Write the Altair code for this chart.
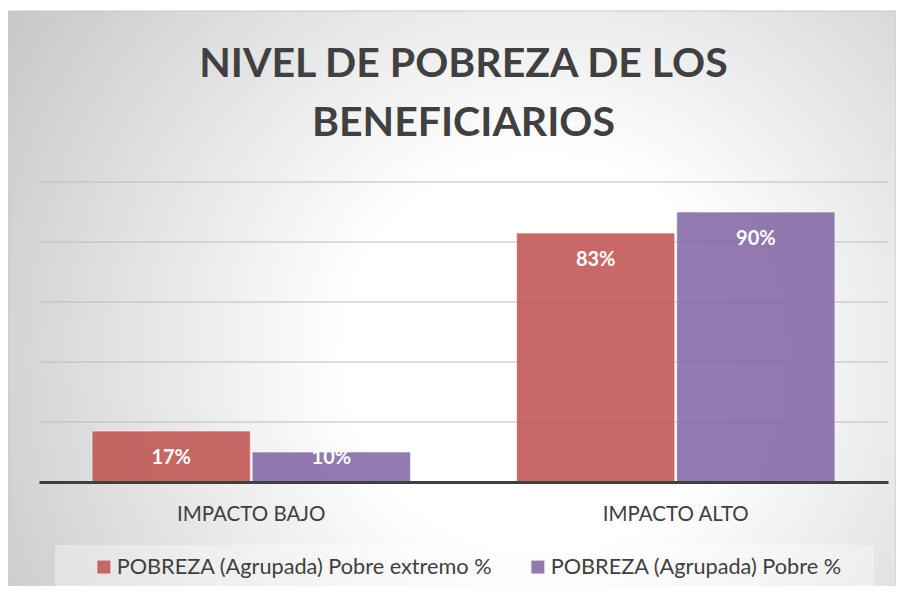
import altair as alt
import pandas as pd

categories = ["IMPACTO BAJO", "IMPACTO ALTO"]
series = ["POBREZA (Agrupada) Pobre extremo %", "POBREZA (Agrupada) Pobre %"]
pobre_extremo = [0.17, 0.83]
pobre = [0.10, 0.90]
grid_vals = [0.2, 0.4, 0.6, 0.8, 1.0]
colors = ["#C0504D", "#8064A2"]
title_lines = ["NIVEL DE POBREZA DE LOS", "BENEFICIARIOS"]

rows = []
for i, c in enumerate(categories):
    rows.append({"impacto": c, "serie": series[0], "valor": pobre_extremo[i]})
    rows.append({"impacto": c, "serie": series[1], "valor": pobre[i]})
df = pd.DataFrame(rows)

W, H = 849, 300
FONT = "Lato"

x_enc = alt.X("impacto:N", sort=categories,
              scale=alt.Scale(paddingInner=0.25, paddingOuter=0.125),
              axis=alt.Axis(title=None, labelAngle=0, ticks=False, domainColor="#404040",
                            domainWidth=3, labelFont=FONT, labelFontSize=20.5,
                            labelColor="#404040", labelPadding=22, grid=False, zindex=1))
xo_enc = alt.XOffset("serie:N", sort=series, scale=alt.Scale(paddingInner=0.012, paddingOuter=0))
y_scale = alt.Scale(domain=[0, 1], nice=False)

bg = alt.Chart(alt.Data(values=[{}])).mark_rect(
    color={"gradient": "radial", "x1": 0.6, "y1": 0.56, "r1": 0, "x2": 0.6, "y2": 0.56, "r2": 0.74,
           "stops": [{"offset": 0, "color": "#ffffff"}, {"offset": 0.3, "color": "#ffffff"},
                     {"offset": 1, "color": "#c4c4c4"}]},
    stroke="#c8c8c8", strokeWidth=1
).encode(x=alt.value(-31), x2=alt.value(W + 8), y=alt.value(-171), y2=alt.value(H + 110))

legend_box = alt.Chart(alt.Data(values=[{}])).mark_rect(
    color="#ffffff", opacity=0.35
).encode(x=alt.value(16), x2=alt.value(835), y=alt.value(363), y2=alt.value(407))

grid = alt.Chart(pd.DataFrame({"g": grid_vals})).mark_rule(color="#bcbcbc", strokeWidth=1).encode(
    y=alt.Y("g:Q", scale=y_scale, axis=None)
)

bars = alt.Chart(df).mark_bar(opacity=0.85, stroke="#ffffff", strokeWidth=1, strokeOpacity=0.6).encode(
    x=x_enc,
    xOffset=xo_enc,
    y=alt.Y("valor:Q", scale=y_scale, axis=None),
    color=alt.Color("serie:N", sort=series,
                    scale=alt.Scale(domain=series, range=colors),
                    legend=alt.Legend(orient="none", legendX=54, legendY=374, direction="horizontal",
                                      title=None, symbolType="square", symbolSize=169,
                                      symbolStrokeWidth=0, symbolOpacity=0.85,
                                      labelFont=FONT, labelFontSize=21.7, labelColor="#404040",
                                      labelLimit=600, columnPadding=34, labelOffset=2, padding=0)),
)

labels = alt.Chart(df).transform_calculate(
    pos="max(datum.valor, 0.17)",
    txt="format(datum.valor, '.0%')"
).mark_text(font=FONT, fontWeight="bold", fontSize=20, color="#ffffff", baseline="middle", dy=27).encode(
    x=x_enc,
    xOffset=xo_enc,
    y=alt.Y("pos:Q", scale=y_scale, axis=None),
    text="txt:N",
)

chart = alt.layer(bg, legend_box, grid, bars, labels).properties(
    width=W, height=H,
    autosize=alt.AutoSizeParams(type="none"),
    padding={"left": 31, "top": 174, "right": 8, "bottom": 104},
    background="#ffffff",
    title=alt.TitleParams(text=title_lines, font=FONT, fontSize=41, fontWeight="bold",
                          color="#404040", anchor="middle", lineHeight=59, offset=-134,
                          frame="group"),
).configure_view(stroke=None)

chart.save("out.html", embed_options={"renderer": "svg", "actions": False})
